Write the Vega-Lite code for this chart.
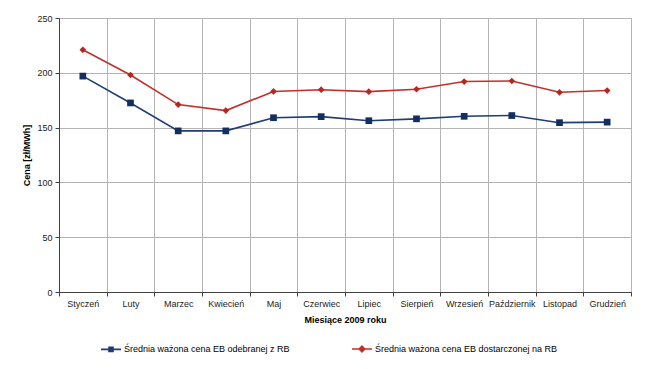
{
  "$schema": "https://vega.github.io/schema/vega-lite/v6.json",
  "width": 572,
  "height": 274,
  "autosize": {"type": "none"},
  "padding": {"left": 59, "top": 18, "right": 19, "bottom": 77},
  "background": "white",
  "config": {
    "font": "Liberation Sans",
    "view": {"stroke": "#8c8c8c", "strokeWidth": 1},
    "axis": {
      "labelFont": "Liberation Sans",
      "labelFontSize": 9,
      "labelColor": "#222222",
      "titleFont": "Liberation Sans",
      "titleFontSize": 9,
      "titleFontWeight": "bold",
      "titleColor": "#000000",
      "domainColor": "#404040",
      "tickColor": "#404040",
      "tickSize": 4,
      "labelPadding": 3,
      "gridColor": "#b4b4b4",
      "gridOpacity": 1,
      "gridWidth": 1
    }
  },
  "data": {
    "values": [
      {"month": "Styczeń", "series": "Średnia ważona cena EB odebranej z RB", "value": 197},
      {"month": "Luty", "series": "Średnia ważona cena EB odebranej z RB", "value": 172.5},
      {"month": "Marzec", "series": "Średnia ważona cena EB odebranej z RB", "value": 147},
      {"month": "Kwiecień", "series": "Średnia ważona cena EB odebranej z RB", "value": 147},
      {"month": "Maj", "series": "Średnia ważona cena EB odebranej z RB", "value": 159},
      {"month": "Czerwiec", "series": "Średnia ważona cena EB odebranej z RB", "value": 160},
      {"month": "Lipiec", "series": "Średnia ważona cena EB odebranej z RB", "value": 156.3},
      {"month": "Sierpień", "series": "Średnia ważona cena EB odebranej z RB", "value": 158},
      {"month": "Wrzesień", "series": "Średnia ważona cena EB odebranej z RB", "value": 160.3},
      {"month": "Październik", "series": "Średnia ważona cena EB odebranej z RB", "value": 161},
      {"month": "Listopad", "series": "Średnia ważona cena EB odebranej z RB", "value": 154.5},
      {"month": "Grudzień", "series": "Średnia ważona cena EB odebranej z RB", "value": 155},
      {"month": "Styczeń", "series": "Średnia ważona cena EB dostarczonej na RB", "value": 221},
      {"month": "Luty", "series": "Średnia ważona cena EB dostarczonej na RB", "value": 198},
      {"month": "Marzec", "series": "Średnia ważona cena EB dostarczonej na RB", "value": 171},
      {"month": "Kwiecień", "series": "Średnia ważona cena EB dostarczonej na RB", "value": 165.5},
      {"month": "Maj", "series": "Średnia ważona cena EB dostarczonej na RB", "value": 183},
      {"month": "Czerwiec", "series": "Średnia ważona cena EB dostarczonej na RB", "value": 184.6},
      {"month": "Lipiec", "series": "Średnia ważona cena EB dostarczonej na RB", "value": 182.8},
      {"month": "Sierpień", "series": "Średnia ważona cena EB dostarczonej na RB", "value": 185},
      {"month": "Wrzesień", "series": "Średnia ważona cena EB dostarczonej na RB", "value": 192},
      {"month": "Październik", "series": "Średnia ważona cena EB dostarczonej na RB", "value": 192.5},
      {"month": "Listopad", "series": "Średnia ważona cena EB dostarczonej na RB", "value": 182.2},
      {"month": "Grudzień", "series": "Średnia ważona cena EB dostarczonej na RB", "value": 183.8}
    ]
  },
  "encoding": {
    "x": {
      "field": "month",
      "type": "ordinal",
      "sort": ["Styczeń", "Luty", "Marzec", "Kwiecień", "Maj", "Czerwiec", "Lipiec", "Sierpień", "Wrzesień", "Październik", "Listopad", "Grudzień"],
      "scale": {"paddingInner": 0, "paddingOuter": 0},
      "axis": {"title": "Miesiące 2009 roku", "labelAngle": 0, "tickBand": "extent", "grid": true, "titlePadding": 7}
    },
    "y": {
      "field": "value",
      "type": "quantitative",
      "scale": {"domain": [0, 250], "nice": false},
      "axis": {"title": "Cena [zł/MWh]", "values": [0, 50, 100, 150, 200, 250], "grid": true, "titlePadding": 5}
    }
  },
  "layer": [
    {
      "mark": {"type": "line", "strokeWidth": 1.6},
      "encoding": {
        "color": {
          "field": "series",
          "type": "nominal",
          "sort": ["Średnia ważona cena EB odebranej z RB", "Średnia ważona cena EB dostarczonej na RB"],
          "scale": {
            "domain": ["Średnia ważona cena EB odebranej z RB", "Średnia ważona cena EB dostarczonej na RB"],
            "range": ["#1f3c73", "#c0312b"]
          },
          "legend": {
            "title": null,
            "orient": "none",
            "direction": "horizontal",
            "legendX": 41,
            "legendY": 320,
            "padding": 0,
            "columnPadding": 58,
            "labelFont": "Liberation Sans",
            "labelFontSize": 9,
            "labelColor": "#000000",
            "labelOffset": 2,
            "labelLimit": 300,
            "symbolSize": 400,
            "symbolStrokeWidth": 1.6,
            "encode": {
              "symbols": {
                "update": {
                  "shape": {"signal": "datum.value == 'Średnia ważona cena EB odebranej z RB' ? 'M-1,0H1M-0.2,-0.2H0.2V0.2H-0.2Z' : 'M-1,0H1M0,-0.28L0.28,0L0,0.28L-0.28,0Z'"},
                  "fill": {"signal": "datum.value == 'Średnia ważona cena EB odebranej z RB' ? '#122f60' : '#b8261f'"},
                  "stroke": {"signal": "datum.value == 'Średnia ważona cena EB odebranej z RB' ? '#1f3c73' : '#c0312b'"},
                  "opacity": {"value": 1},
                  "fillOpacity": {"value": 1},
                  "strokeOpacity": {"value": 1}
                }
              }
            }
          }
        }
      }
    },
    {
      "transform": [{"filter": "datum.series == 'Średnia ważona cena EB odebranej z RB'"}],
      "mark": {"type": "point", "shape": "square", "filled": true, "opacity": 1, "size": 45, "color": "#122f60"}
    },
    {
      "transform": [{"filter": "datum.series == 'Średnia ważona cena EB dostarczonej na RB'"}],
      "mark": {"type": "point", "shape": "diamond", "filled": true, "opacity": 1, "size": 45, "color": "#b8261f"}
    }
  ]
}
